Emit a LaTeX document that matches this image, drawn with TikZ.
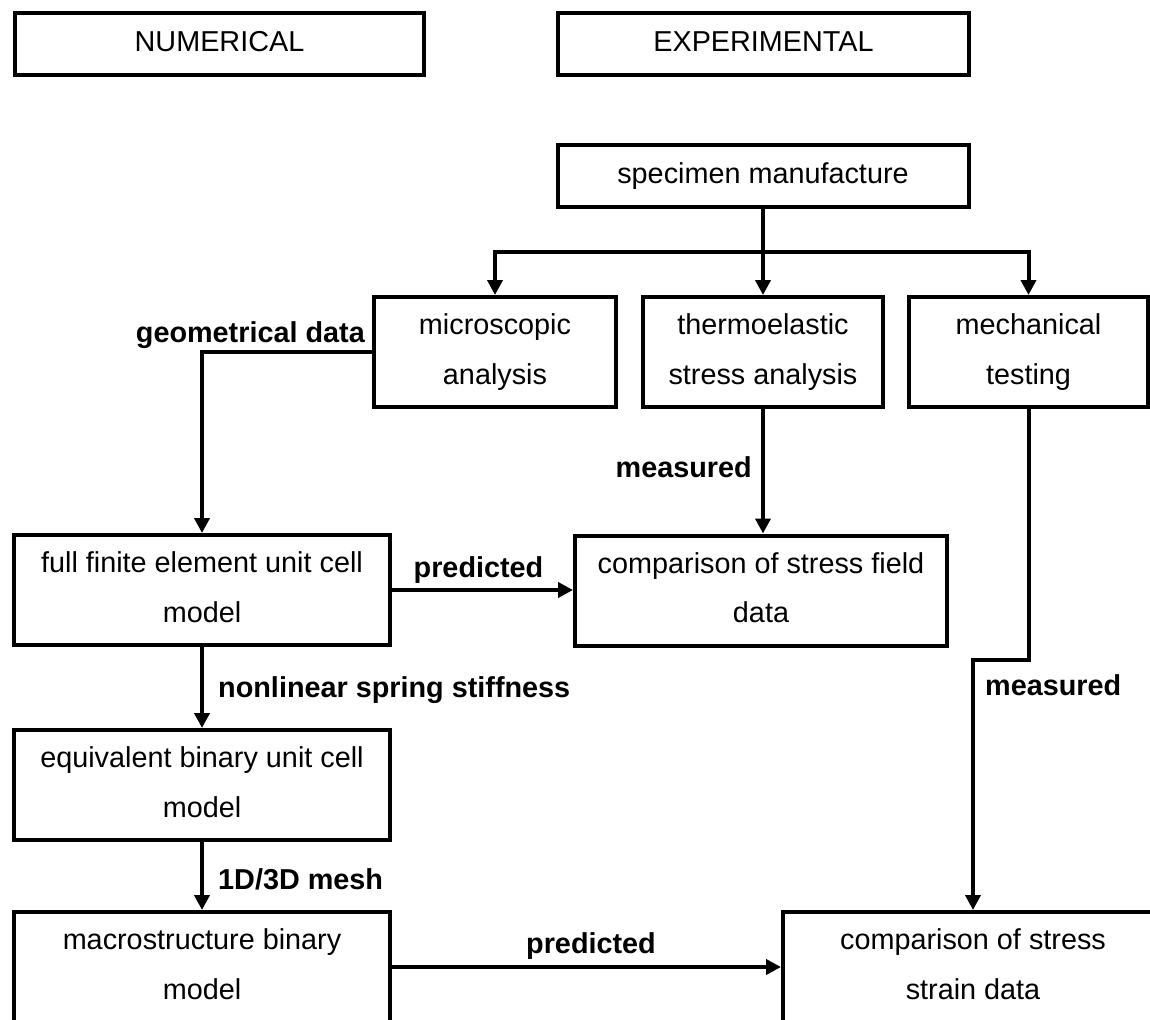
\documentclass[tikz,border=0pt]{standalone}
\usepackage{fontspec}
\setmainfont{Liberation Sans}
\usetikzlibrary{arrows.meta}
\newcommand\mystrut{\rule[-0.21em]{0pt}{0.94em}}
\begin{document}
\begin{tikzpicture}[x=1pt,y=-1pt,
  every node/.style={font=\fontsize{28.8}{49.5}\selectfont},
  box/.style={draw,line width=4pt,inner sep=0pt,align=center,minimum height=110pt},
  hbox/.style={draw,line width=4pt,inner sep=0pt,align=center,minimum height=62pt},
  arr/.style={line width=4pt,-{Triangle[length=15pt,width=15pt]}},
  lab/.style={font=\fontsize{28.8}{49.5}\selectfont\bfseries,inner sep=0pt}]
\useasboundingbox (0,0) rectangle (1150,1019);
\clip (0,0) rectangle (1150,1019);
% header boxes
\node[hbox,minimum width=409pt] (num) at (219.5,44) {\mystrut NUMERICAL};
\node[hbox,minimum width=411pt] (exp) at (763.5,44) {\mystrut EXPERIMENTAL};
% experimental side
\node[hbox,minimum width=411pt] (spec) at (763,176) {\mystrut specimen manufacture};
\node[box,minimum width=242pt] (micro) at (495,352) {\mystrut microscopic\\\mystrut analysis};
\node[box,minimum width=240pt] (thermo) at (763,352) {\mystrut thermoelastic\\\mystrut stress analysis};
\node[box,minimum width=239pt] (mech) at (1028.5,352) {\mystrut mechanical\\\mystrut testing};
\node[box,minimum width=372pt] (cmp1) at (761,590.5) {\mystrut comparison of stress field\\\mystrut data};
% numerical side
\node[box,minimum width=376pt] (fe) at (202,590) {\mystrut full finite element unit cell\\\mystrut model};
\node[box,minimum width=376pt] (eq) at (202,785) {\mystrut equivalent binary unit cell\\\mystrut model};
\node[box,minimum width=376pt] (macro) at (202,967) {\mystrut macrostructure binary\\\mystrut model};
\node[box,minimum width=380pt] (cmp2) at (973,967) {\mystrut comparison of stress\\\mystrut strain data};
% branch
\coordinate (br) at (0,252);
\coordinate (jog) at (0,660);
\draw[arr] (spec.south) -- (thermo.north);
\draw[arr] (spec.south |- br) -| (micro.north);
\draw[arr] (spec.south |- br) -| (mech.north);
% connectors
\draw[arr] (micro.west) -| (fe.north);
\draw[arr] (thermo.south) -- (thermo.south |- cmp1.north);
\draw[arr] (fe.east) -- (fe.east -| cmp1.west);
\draw[arr] (fe.south) -- (eq.north);
\draw[arr] (eq.south) -- (macro.north);
\draw[arr] (macro.east) -- (cmp2.west);
\draw[arr] (mech.south) -- (mech.south |- jog) -| (cmp2.north);
% labels
\node[lab,anchor=base east] (lgeo) at (365,342) {geometrical data};
\node[lab,anchor=base east] (lmeas1) at (752,477) {measured};
\node[lab,anchor=base] (lpred1) at (478.5,577) {predicted};
\node[lab,anchor=base west] (lspring) at (218,697) {nonlinear spring stiffness};
\node[lab,anchor=base west] (lmesh) at (218,889) {1D/3D mesh};
\node[lab,anchor=base] (lpred2) at (591,953) {predicted};
\node[lab,anchor=base west] (lmeas2) at (985,695) {measured};
\end{tikzpicture}
\end{document}
